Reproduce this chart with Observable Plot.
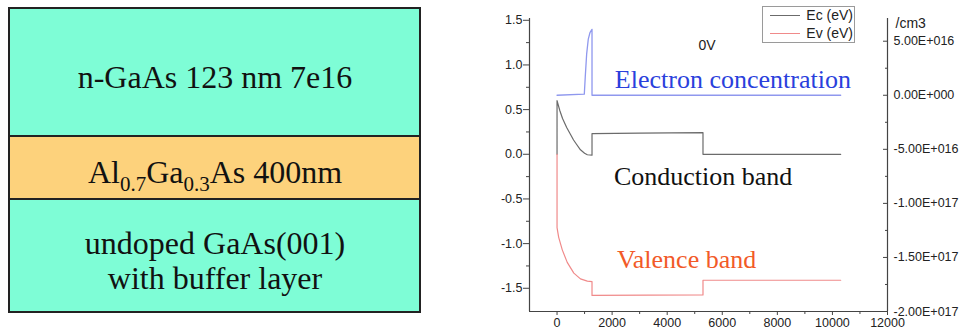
<!DOCTYPE html>
<html>
<head>
<meta charset="utf-8">
<script src="https://cdn.jsdelivr.net/npm/d3@7"></script>
<script src="https://cdn.jsdelivr.net/npm/@observablehq/plot@0.6"></script>
<style>
  html, body { margin: 0; padding: 0; background: #fff; }
  #wrap { position: relative; width: 964px; height: 331px; overflow: hidden; background: #fff; }
  #left { position: absolute; left: 0; top: 0; }
  #right { position: absolute; left: 430px; top: 0; }
  #legend { position: absolute; left: 762px; top: 6px; width: 93px; height: 37px; box-sizing: border-box;
            border: 1px solid #9a9a9a; background: #fff; font-family: "Liberation Sans", Arial, sans-serif;
            font-size: 14px; color: #222; }
  .lrow { position: absolute; left: 0; right: 0; height: 16px; }
  .lline { position: absolute; left: 7px; width: 30px; top: 8px; height: 0; border-top: 1px solid; }
  .ltext { position: absolute; right: 1px; top: 0; line-height: 16px; }
</style>
</head>
<body>
<div id="wrap">
  <div id="left"></div>
  <div id="right"></div>
  <div id="legend"></div>
</div>
<script>
// ---------- Layer stack (schematic) ----------
const layerLabels = ["n-GaAs 123 nm 7e16", "Al0.7Ga0.3As 400nm", "undoped GaAs(001)\nwith buffer layer"];
const layerHeights = [128, 63, 113];          // schematic display heights
const layerColors = ["#7efdd6", "#fdd27c", "#7efdd6"];

// ---------- Band diagram data ----------
const ecX = [0, 0, 100, 200, 350, 500, 600, 700, 850, 1000, 1100, 1270, 1270, 3000, 5300, 5300, 10300];
const ecY = [0, 0.60, 0.49, 0.40, 0.30, 0.215, 0.16, 0.115, 0.05, 0.012, -0.005, -0.01, 0.232, 0.237, 0.243, 0, 0];

const evX = [0, 0, 60, 190, 370, 610, 850, 1100, 1270, 1270, 5300, 5300, 10300];
const evY = [0, -0.82, -0.93, -1.07, -1.21, -1.33, -1.395, -1.42, -1.425, -1.58, -1.575, -1.41, -1.41];

const concX = [0, 990, 1025, 1075, 1135, 1196, 1257, 1270, 1270, 10300];
const concY = [0, 0.1e16, 1.7e16, 3.8e16, 5.2e16, 5.8e16, 6.05e16, 6.1e16, 0, 0];

const xTicks = [0, 2000, 4000, 6000, 8000, 10000, 12000];
const xMinor = [1000, 3000, 5000, 7000, 9000, 11000];
const yTicks = [-1.5, -1.0, -0.5, 0.0, 0.5, 1.0, 1.5];
const yMinor = [-1.25, -0.75, -0.25, 0.25, 0.75, 1.25];
const concTicks = [5e16, 0, -5e16, -1e17, -1.5e17, -2e17];
const concMinor = [2.5e16, -2.5e16, -7.5e16, -1.25e17, -1.75e17];

const legendLabels = ["Ec (eV)", "Ev (eV)"];
const legendColors = ["#6b6b6b", "#f08a8a"];

const xDomain = [-1000, 12000];
const yDomain = [-1.76, 1.52];
const concDomain = [-2e17, 7.1e16];

// ---------- Left: layer stack ----------
let acc = 0;
const layers = layerLabels.map((label, i) => {
  const top = acc; acc += layerHeights[i];
  return {label, top, bottom: acc, mid: (top + acc) / 2, color: layerColors[i]};
});

const leftPlot = Plot.plot({
  width: 430, height: 331, margin: 0,
  x: {domain: [0, 1], range: [9, 420], axis: null},
  y: {domain: [0, acc], range: [8, 312], axis: null},
  color: {type: "identity"},
  style: {background: "transparent"},
  marks: [
    Plot.rect(layers, {x1: 0, x2: 1, y1: "top", y2: "bottom", fill: "color", stroke: "#222", strokeWidth: 2}),
    Plot.text(layers, {x: 0.5, y: "mid", text: "label", dy: 4, fontSize: 32, lineHeight: 1.12,
      fontFamily: "'Liberation Serif', 'Times New Roman', serif", fill: "#111"})
  ]
});
document.getElementById("left").appendChild(leftPlot);

// subscripts for the AlGaAs label
d3.select(leftPlot).selectAll("text")
  .filter(function() { return this.textContent === layerLabels[1]; })
  .each(function() {
    const t = d3.select(this);
    const parts = layerLabels[1].split(/(\d\.\d)(?=[A-Z])/);
    t.text(null);
    let shifted = false;
    parts.forEach((s, i) => {
      const sub = i % 2 === 1;
      const ts = t.append("tspan").text(s);
      if (sub) ts.attr("font-size", "21px");
      if (sub !== shifted) { ts.attr("dy", sub ? 8 : -8); shifted = sub; }
    });
  });

// ---------- Right: band diagram ----------
const cy = d3.scaleLinear().domain(concDomain).range(yDomain);
function sci(v) {
  if (v === 0) return "0.00E+000";
  const e = Math.floor(Math.log10(Math.abs(v)) + 1e-9);
  const m = v / Math.pow(10, e);
  return m.toFixed(2) + "E" + (e < 0 ? "-" : "+") + String(Math.abs(e)).padStart(3, "0");
}
const concLabel = new Map(concTicks.map(c => [cy(c), sci(c)]));

const ecData = ecX.map((x, i) => ({x, y: ecY[i]}));
const evData = evX.map((x, i) => ({x, y: evY[i]}));
const concData = concX.map((x, i) => ({x, y: cy(concY[i])}));

const sans = "'Liberation Sans', Arial, sans-serif";
const serif = "'Liberation Serif', 'Times New Roman', serif";

const rightPlot = Plot.plot({
  width: 534, height: 331,
  marginLeft: 99, marginRight: 77, marginTop: 18, marginBottom: 20,
  x: {domain: xDomain, label: null},
  y: {domain: yDomain, label: null},
  style: {fontFamily: sans, fontSize: "12.5px", color: "#222", background: "transparent"},
  marks: [
    Plot.line(concData, {x: "x", y: "y", stroke: "#8f98ee", strokeWidth: 1.3}),
    Plot.line(ecData, {x: "x", y: "y", stroke: legendColors[0], strokeWidth: 1.2}),
    Plot.line(evData, {x: "x", y: "y", stroke: legendColors[1], strokeWidth: 1.2}),
    Plot.ruleX(xDomain, {stroke: "#444", strokeWidth: 1.2}),
    Plot.ruleY([yDomain[0]], {stroke: "#444", strokeWidth: 1.2}),
    Plot.axisX(xTicks, {tickSize: 4, tickPadding: 3, tickFormat: d => String(d), stroke: "#444", label: null}),
    Plot.axisX(xMinor, {tickSize: 3, tickFormat: () => "", stroke: "#444", label: null}),
    Plot.axisY(yTicks, {tickSize: 6, tickPadding: 1, tickFormat: d => d.toFixed(1), stroke: "#444", label: null}),
    Plot.axisY(yMinor, {tickSize: 3, tickFormat: () => "", stroke: "#444", label: null}),
    Plot.axisY(concTicks.map(cy), {anchor: "right", tickSize: 5, dx: -5, tickFormat: () => "", stroke: "#444", label: null}),
    Plot.axisY(concMinor.map(cy), {anchor: "right", tickSize: 3, dx: -3, tickFormat: () => "", stroke: "#444", label: null}),
    Plot.axisY(concTicks.map(cy), {anchor: "right", tickSize: 0, tickPadding: 6, tickFormat: d => concLabel.get(d), label: null}),
    Plot.text(["/cm3"], {frameAnchor: "top-right", dx: 8, textAnchor: "start", fontSize: 14, fontFamily: sans, fill: "#222"}),
    Plot.text(["0V"], {x: 5450, y: 1.22, fontSize: 14, fontFamily: sans, fill: "#222"}),
    Plot.text(["Electron concentration"], {x: 2100, y: 0.838, textAnchor: "start", fontSize: 26, fontFamily: serif, fill: "#2a3fdc"}),
    Plot.text(["Conduction band"], {x: 2065, y: -0.254, textAnchor: "start", fontSize: 26, fontFamily: serif, fill: "#111"}),
    Plot.text(["Valence band"], {x: 2174, y: -1.18, textAnchor: "start", fontSize: 26, fontFamily: serif, fill: "#f25a28"})
  ]
});
document.getElementById("right").appendChild(rightPlot);

// ---------- Legend ----------
const legend = d3.select("#legend");
legendLabels.forEach((lab, i) => {
  const row = legend.append("div").attr("class", "lrow").style("top", (i === 0 ? 0 : 18) + "px");
  row.append("div").attr("class", "lline").style("border-top-color", legendColors[i]);
  row.append("div").attr("class", "ltext").text(lab);
});
</script>
</body>
</html>
